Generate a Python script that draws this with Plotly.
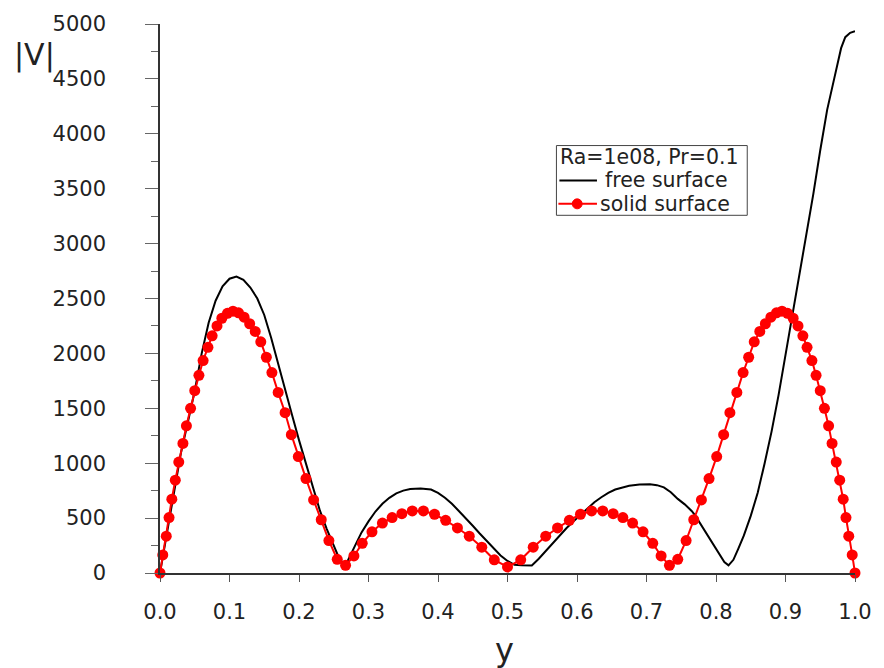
import plotly.graph_objects as go

# ---- data ----
solid_y_pos = [0.000, 0.004, 0.009, 0.013, 0.017, 0.022, 0.027, 0.033, 0.038, 0.044,
               0.050, 0.056, 0.062, 0.069, 0.075, 0.082, 0.089, 0.097, 0.105, 0.113,
               0.121, 0.129, 0.137, 0.145, 0.153, 0.161, 0.170, 0.180, 0.189, 0.199,
               0.210, 0.221, 0.232, 0.243, 0.255, 0.267, 0.279, 0.291, 0.305, 0.320,
               0.334, 0.348, 0.363, 0.379, 0.395, 0.411, 0.428, 0.445, 0.463, 0.481,
               0.500,
               0.519, 0.537, 0.555, 0.572, 0.589, 0.605, 0.621, 0.637, 0.652, 0.666,
               0.680, 0.695, 0.709, 0.721, 0.733, 0.745, 0.757, 0.768, 0.779, 0.790,
               0.801, 0.811, 0.820, 0.830, 0.839, 0.847, 0.855, 0.863, 0.871, 0.879,
               0.887, 0.895, 0.903, 0.911, 0.918, 0.925, 0.931, 0.938, 0.944, 0.950,
               0.956, 0.962, 0.967, 0.973, 0.978, 0.983, 0.987, 0.991, 0.996, 1.000]
solid_V = [0, 165, 335, 505, 672, 845, 1010, 1180, 1340, 1500,
           1660, 1800, 1935, 2055, 2160, 2250, 2320, 2365, 2385, 2370,
           2330, 2270, 2200, 2105, 1965, 1825, 1645, 1460, 1260, 1060,
           860, 665, 485, 295, 125, 70, 155, 270, 375, 455,
           505, 540, 565, 565, 535, 480, 410, 335, 235, 120,
           55,
           120, 235, 335, 410, 480, 535, 565, 565, 540, 505,
           455, 375, 270, 155, 70, 125, 295, 485, 665, 860,
           1060, 1260, 1460, 1645, 1825, 1965, 2105, 2200, 2270, 2330,
           2370, 2385, 2365, 2320, 2250, 2160, 2055, 1935, 1800, 1660,
           1500, 1340, 1180, 1010, 845, 672, 505, 335, 165, 0]

free_y_pos = [0.000, 0.010, 0.020, 0.030, 0.040, 0.050, 0.060, 0.070, 0.080, 0.090,
              0.100, 0.110, 0.120, 0.130, 0.140, 0.150, 0.160, 0.170, 0.180, 0.190,
              0.200, 0.210, 0.220, 0.230, 0.240, 0.250, 0.258, 0.265, 0.270, 0.280,
              0.290, 0.300, 0.310, 0.320, 0.330, 0.340, 0.350, 0.360, 0.375, 0.390,
              0.400, 0.410, 0.420, 0.430, 0.440, 0.450, 0.460, 0.470, 0.480, 0.490,
              0.500, 0.510, 0.520, 0.535, 0.545, 0.555, 0.565, 0.575, 0.585, 0.595,
              0.605, 0.615, 0.625, 0.635, 0.645, 0.655, 0.665, 0.675, 0.690, 0.705,
              0.715, 0.725, 0.735, 0.745, 0.755, 0.765, 0.770, 0.775, 0.785, 0.795,
              0.805, 0.812, 0.818, 0.825, 0.832, 0.840, 0.850, 0.860, 0.870, 0.880,
              0.890, 0.900, 0.910, 0.920, 0.930, 0.940, 0.950, 0.960, 0.970, 0.975,
              0.980, 0.986, 0.993, 1.000]
free_V = [0, 370, 760, 1090, 1370, 1660, 2000, 2280, 2480, 2610,
          2680, 2700, 2670, 2600, 2500, 2350, 2140, 1900, 1670, 1440,
          1210, 990, 770, 570, 400, 250, 130, 80, 110, 240,
          370, 470, 560, 630, 685, 725, 750, 765, 770, 760,
          730, 685, 630, 565, 500, 430, 360, 290, 225, 160,
          110, 75, 70, 68, 130, 200, 270, 345, 410, 470,
          530, 590, 645, 690, 730, 760, 780, 795, 805, 808,
          800, 780, 735, 675, 625, 565, 525, 475, 375, 270,
          165, 100, 70, 120, 220, 340, 520, 730, 1000, 1290,
          1620, 1980, 2370, 2720, 3080, 3450, 3850, 4220, 4500, 4650,
          4780, 4880, 4920, 4935]

x_ticks = [0.0, 0.1, 0.2, 0.3, 0.4, 0.5, 0.6, 0.7, 0.8, 0.9, 1.0]
y_ticks = [0, 500, 1000, 1500, 2000, 2500, 3000, 3500, 4000, 4500, 5000]
legend_title = "Ra=1e08, Pr=0.1"
names = ["free surface", "solid surface"]

FONT = "DejaVu Sans, Arial, sans-serif"
TXT = "#222"

fig = go.Figure()
fig.add_trace(go.Scatter(
    x=free_y_pos, y=free_V, mode="lines", name=names[0],
    line=dict(color="black", width=2), cliponaxis=False, showlegend=False))
fig.add_trace(go.Scatter(
    x=solid_y_pos, y=solid_V, mode="lines+markers", name=names[1],
    line=dict(color="#ff0000", width=2),
    marker=dict(color="#ff0000", size=11), cliponaxis=False, showlegend=False))

L, R, T, B = 160, 21, 22, 95
PW, PH = 884 - L - R, 668 - T - B


def px(xpix):
    return (xpix - L) / PW


def py(ypix):
    return (668 - B - ypix) / PH


# compact boxed legend (as in the reference)
rows = [155.5, 179.0, 202.5]
shapes = [
    dict(type="rect", xref="paper", yref="paper",
         x0=px(561), x1=px(754), y0=py(214), y1=py(144),
         line=dict(color="#444", width=1), fillcolor="white", layer="above"),
    dict(type="line", xref="paper", yref="paper",
         x0=px(564), x1=px(602), y0=py(rows[1]), y1=py(rows[1]),
         line=dict(color="black", width=2), layer="above"),
    dict(type="line", xref="paper", yref="paper",
         x0=px(563), x1=px(602), y0=py(rows[2]), y1=py(rows[2]),
         line=dict(color="#ff0000", width=2), layer="above"),
    dict(type="circle", xref="paper", yref="paper",
         x0=px(577), x1=px(587), y0=py(rows[2] + 5), y1=py(rows[2] - 5),
         line=dict(color="#ff0000", width=1), fillcolor="#ff0000", layer="above"),
]

annotations = [
    dict(text=legend_title, xref="paper", yref="paper", x=px(564), y=py(rows[0]),
         xanchor="left", yanchor="middle", showarrow=False, borderpad=0,
         font=dict(size=20.5, family=FONT, color=TXT)),
    dict(text=names[0], xref="paper", yref="paper", x=px(609), y=py(rows[1]),
         xanchor="left", yanchor="middle", showarrow=False, borderpad=0,
         font=dict(size=20.5, family=FONT, color=TXT)),
    dict(text=names[1], xref="paper", yref="paper", x=px(604), y=py(rows[2]),
         xanchor="left", yanchor="middle", showarrow=False, borderpad=0,
         font=dict(size=20.5, family=FONT, color=TXT)),
    dict(text="|V|", xref="paper", yref="paper", x=px(33), y=py(53),
         xanchor="center", yanchor="middle", showarrow=False,
         font=dict(size=30, family=FONT, color=TXT)),
    dict(text="y", xref="paper", yref="paper", x=px(508), y=py(650),
         xanchor="center", yanchor="middle", showarrow=False,
         font=dict(size=32, family=FONT, color=TXT)),
]

fig.update_layout(
    width=884, height=668,
    margin=dict(l=L, r=R, t=T, b=B),
    paper_bgcolor="white", plot_bgcolor="white",
    font=dict(family=FONT, color=TXT, size=21),
    showlegend=False,
    shapes=shapes,
    annotations=annotations,
    xaxis=dict(
        range=[0, 1.0], tickvals=x_ticks, tickformat=".1f",
        showgrid=False, zeroline=False,
        showline=True, linecolor="#333", linewidth=1.5,
        ticks="outside", ticklen=7, tickcolor="#555", tickwidth=1,
        ticklabelstandoff=12,
        tickfont=dict(size=21, family=FONT, color=TXT),
    ),
    yaxis=dict(
        range=[0, 5000], tickvals=y_ticks,
        showgrid=False, zeroline=False,
        showline=True, linecolor="#333", linewidth=1.5,
        ticks="outside", ticklen=13, tickcolor="#666", tickwidth=1.2,
        ticklabelstandoff=35,
        minor=dict(dtick=250, ticks="outside", ticklen=7, tickcolor="#666",
                   tickwidth=1.2, showgrid=False),
        tickfont=dict(size=21, family=FONT, color=TXT),
    ),
)

fig.write_html("out.html")
